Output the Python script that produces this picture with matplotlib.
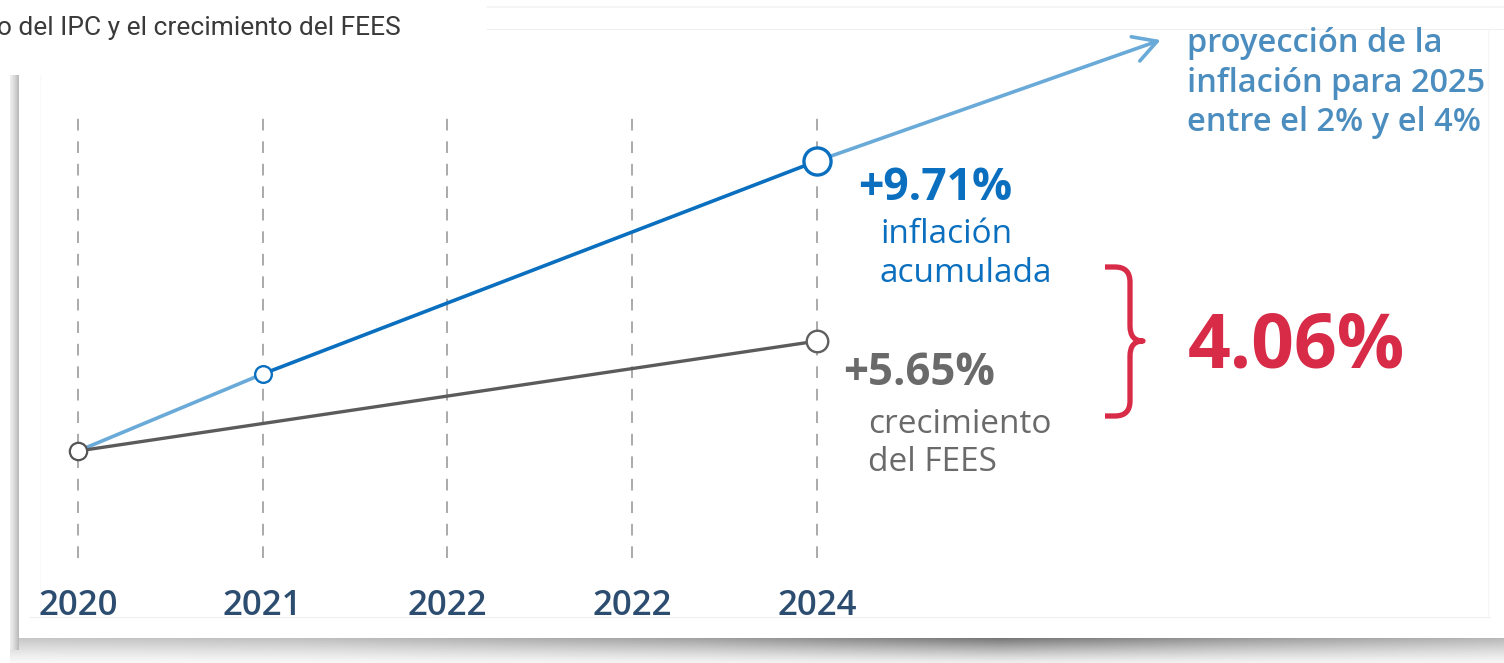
import numpy as np
import matplotlib
matplotlib.use("Agg")
import matplotlib.pyplot as plt
from matplotlib.path import Path
from matplotlib.patches import PathPatch

# ---------------- data ----------------
years_pos = [2020, 2021, 2022, 2023, 2024]
year_labels = ["2020", "2021", "2022", "2022", "2024"]   # as printed in the original
infl_years = [2020, 2021, 2024]
infl_values = [0.0, 2.58, 9.71]          # inflación acumulada (%)
fees_years = [2020, 2024]
fees_plot = [0.0, 3.68]                  # plotted position of the FEES line (chart is not to scale)
proj_end = (2025.86, 13.76)              # end of the 2025 projection arrow
label_infl = "+9.71%"
label_fees = "+5.65%"
label_gap = "4.06%"
title_text = "o del IPC y el crecimiento del FEES"
proj_text = ["proyección de la", "inflación para 2025", "entre el 2% y el 4%"]

# ---------------- layout ----------------
W, H = 1504, 663
fig = plt.figure(figsize=(W / 100, H / 100), dpi=100)
fig.patch.set_facecolor("white")

# pixel axes for decoration
bg = fig.add_axes([0, 0, 1, 1], zorder=0)
bg.set_xlim(0, W)
bg.set_ylim(H, 0)
bg.axis("off")

# bottom shadow
xs = np.arange(10, W)
strength = np.interp(xs, [10, 300, 700, 1000, 1250, 1504], [0.24, 0.27, 0.40, 0.58, 0.42, 0.30])
ys = np.linspace(0, 1, 25)
fade = (1 - ys) ** 1.2 * 0.8 + 0.12
shadow = 1 - strength[None, :] * fade[:, None]
bg.imshow(shadow, extent=(10, W, 663, 638), cmap="gray", vmin=0, vmax=1,
          aspect="auto", interpolation="bilinear", zorder=0)
# left shadow
lx = np.linspace(0, 1, 9)
left = 1 - (0.07 + 0.20 * lx ** 1.3)
left = np.tile(left[None, :], (10, 1))
bg.imshow(left, extent=(10, 19, 650, 75), cmap="gray", vmin=0, vmax=1,
          aspect="auto", interpolation="bilinear", zorder=0)
bg.add_patch(plt.Rectangle((19, 75), W - 19, 563, facecolor="white", edgecolor="none", zorder=1))

# faint frame lines
bg.plot([30, 1490], [617, 617], color="#efefef", lw=0.8, zorder=2)
bg.plot([487, W], [7, 7], color="#f4f4f4", lw=1.2, zorder=2)
bg.plot([487, W], [29, 29], color="#efefef", lw=0.8, zorder=2)
bg.plot([40, 40], [75, 617], color="#f9f9f9", lw=0.8, zorder=2)
bg.plot([1488, 1488], [29, 617], color="#f5f5f5", lw=0.8, zorder=2)

# title fragment
bg.text(-3, 35, title_text, fontsize=19, color="#3a3a3a", family="Roboto",
        ha="left", va="baseline", zorder=3)

# red brace
red = "#d72b47"
verts = [(1105, 267), (1115, 267), (1130, 267), (1130, 282), (1130, 326),
         (1130, 341), (1143, 341), (1130, 341), (1130, 356), (1130, 401),
         (1130, 416), (1115, 416), (1105, 416)]
codes = [Path.MOVETO, Path.LINETO, Path.CURVE3, Path.CURVE3, Path.LINETO,
         Path.CURVE3, Path.CURVE3, Path.CURVE3, Path.CURVE3, Path.LINETO,
         Path.CURVE3, Path.CURVE3, Path.LINETO]
bg.add_patch(PathPatch(Path(verts, codes), facecolor="none", edgecolor=red,
                       lw=3.8, capstyle="butt", joinstyle="round", zorder=3))

# ---------------- data axes ----------------
X0_PX, PX_PER_YEAR = 78, 184.75
Y0_PX, PX_PER_UNIT = 451, 29.866
ax = fig.add_axes([0, 0, 1, 1], zorder=2)
ax.patch.set_alpha(0)
ax.set_xlim(2020 - X0_PX / PX_PER_YEAR, 2020 + (W - X0_PX) / PX_PER_YEAR)
ax.set_ylim(-(H - Y0_PX) / PX_PER_UNIT, Y0_PX / PX_PER_UNIT)
ax.axis("off")


def py(p):
    return (Y0_PX - p) / PX_PER_UNIT


def px(p):
    return 2020 + (p - X0_PX) / PX_PER_YEAR


dark_blue = "#0a6fbe"
light_blue = "#6aaad8"
gray_line = "#5b5b5b"
gray_text = "#6a6a6a"
proj_blue = "#4b8dbf"
year_col = "#2c4d70"
FONT = "Open Sans"

ax.vlines(years_pos, py(558), py(118), colors="#9c9c9c", lw=1.2,
          linestyles=(0, (7, 6.5)), zorder=1)

# projection arrow
ax.annotate("", xy=proj_end, xytext=(infl_years[-1], infl_values[-1]),
            arrowprops=dict(arrowstyle="->,head_length=0.75,head_width=0.42",
                            color=light_blue, lw=2.6, mutation_scale=22,
                            shrinkA=0, shrinkB=0), zorder=2)

# lines
ax.plot(infl_years[:2], infl_values[:2], color=light_blue, lw=2.6, zorder=3,
        solid_capstyle="butt")
ax.plot(infl_years[1:], infl_values[1:], color=dark_blue, lw=2.6, zorder=3,
        solid_capstyle="butt")
ax.plot(fees_years, fees_plot, color=gray_line, lw=2.4, zorder=3)

# markers
ax.plot([fees_years[0]], [fees_plot[0]], "o", ms=12.5, mfc="white", mec="#555555", mew=1.6, zorder=5)
ax.plot([infl_years[1]], [infl_values[1]], "o", ms=12, mfc="white", mec=dark_blue, mew=1.7, zorder=5)
ax.plot([infl_years[2]], [infl_values[2]], "o", ms=19.5, mfc="white", mec=dark_blue, mew=2.4, zorder=5)
ax.plot([fees_years[1]], [fees_plot[1]], "o", ms=15.5, mfc="white", mec="#5f5f5f", mew=1.7, zorder=5)

# year labels
for x, lab in zip(years_pos, year_labels):
    ax.text(x, py(615), lab, ha="center", va="baseline", fontsize=25,
            fontweight="semibold", color=year_col, family=FONT)

# annotations
ax.text(px(858), py(200), label_infl, ha="left", va="baseline", fontsize=32,
        fontweight="bold", color=dark_blue, family=FONT)
ax.text(px(880), py(243), "inflación", ha="left", va="baseline", fontsize=24,
        color=dark_blue, family=FONT)
ax.text(px(880), py(282), "acumulada", ha="left", va="baseline", fontsize=24,
        color=dark_blue, family=FONT)
ax.text(px(843), py(385), label_fees, ha="left", va="baseline", fontsize=31.5,
        fontweight="bold", color=gray_text, family=FONT)
ax.text(px(868), py(433), "crecimiento", ha="left", va="baseline", fontsize=24,
        color=gray_text, family=FONT)
ax.text(px(868), py(471), "del FEES", ha="left", va="baseline", fontsize=24,
        color=gray_text, family=FONT)
ax.text(px(1188), py(367), label_gap, ha="left", va="baseline", fontsize=54,
        fontweight="bold", color=red, family=FONT)
for i, line in enumerate(proj_text):
    ax.text(px(1187), py(52 + 39.5 * i), line, ha="left", va="baseline", fontsize=23.5,
            fontweight="semibold", color=proj_blue, family=FONT)

fig.savefig("out.png", dpi=100, facecolor="white")
